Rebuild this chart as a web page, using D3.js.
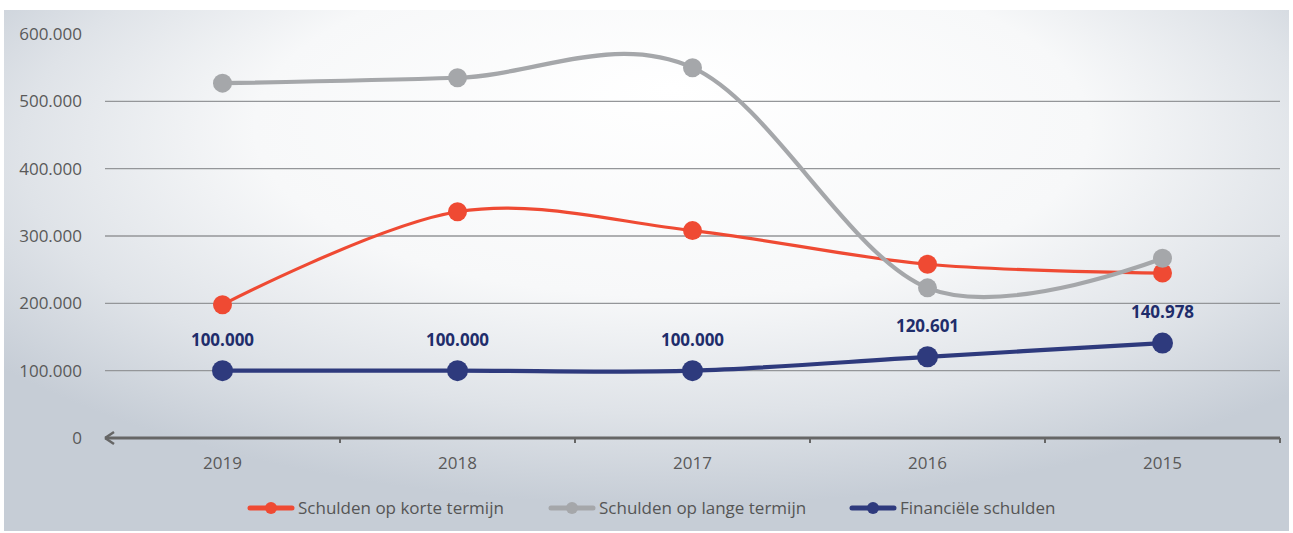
<!DOCTYPE html>
<html>
<head>
<meta charset="utf-8">
<script src="https://cdn.jsdelivr.net/npm/d3@7"></script>
<style>
  html, body { margin: 0; padding: 0; background: #ffffff; }
  svg { display: block; }
  text { font-family: "Open Sans", "Noto Sans", sans-serif; }
</style>
</head>
<body>
<svg id="chart" width="1293" height="533"></svg>
<script>
const years = ["2019", "2018", "2017", "2016", "2015"];
const korte = [198000, 336000, 308000, 258000, 245000];
const lange = [527000, 535000, 550000, 223000, 267000];
const financiele = [100000, 100000, 100000, 120601, 140978];
const yTicks = [0, 100000, 200000, 300000, 400000, 500000, 600000];
const seriesNames = ["Schulden op korte termijn", "Schulden op lange termijn", "Financiële schulden"];

const W = 1293, H = 533;
const svg = d3.select("#chart");
const defs = svg.append("defs");
const grad = defs.append("radialGradient").attr("id", "bg")
  .attr("cx", "52%").attr("cy", "30%").attr("r", "65%").attr("fx", "52%").attr("fy", "15%");
grad.append("stop").attr("offset", "0%").attr("stop-color", "#ffffff");
grad.append("stop").attr("offset", "50%").attr("stop-color", "#f7f8f9");
grad.append("stop").attr("offset", "78%").attr("stop-color", "#dfe3e8");
grad.append("stop").attr("offset", "100%").attr("stop-color", "#c6cdd6");

svg.append("rect").attr("x", 4).attr("y", 10).attr("width", W - 8).attr("height", H - 12)
  .attr("fill", "url(#bg)");

const plot = { left: 105, right: 1280, top: 34, bottom: 438 };
const x = d3.scaleBand().domain(years).range([plot.left, plot.right]);
const y = d3.scaleLinear().domain([0, 600000]).range([plot.bottom, plot.top]);
const fmt = v => v === 0 ? "0" : d3.format(",")(v).replace(/,/g, ".");

// gridlines
svg.append("g").selectAll("line").data(yTicks.filter(d => d > 0 && d < 600000)).join("line")
  .attr("x1", plot.left).attr("x2", plot.right)
  .attr("y1", d => y(d)).attr("y2", d => y(d))
  .attr("stroke", "#949699").attr("stroke-width", 1.3);

// y axis labels
const yAxis = d3.axisLeft(y).tickValues(yTicks).tickFormat(fmt).tickSize(0).tickPadding(0);
const gy = svg.append("g").attr("transform", `translate(82,0)`).call(yAxis);
gy.select(".domain").remove();
gy.selectAll("text").attr("font-size", 17).attr("fill", "#595959");

// x axis
const xAxis = d3.axisBottom(x).tickSize(0).tickPadding(19);
const gx = svg.append("g").attr("transform", `translate(0,${plot.bottom})`).call(xAxis);
gx.select(".domain").remove();
gx.selectAll("text").attr("font-size", 17).attr("fill", "#595959");
svg.append("line").attr("x1", plot.left).attr("x2", plot.right)
  .attr("y1", plot.bottom).attr("y2", plot.bottom)
  .attr("stroke", "#666666").attr("stroke-width", 3);
// arrow at left
svg.append("path")
  .attr("d", `M${plot.left},${plot.bottom} l9,-6 M${plot.left},${plot.bottom} l9,6`)
  .attr("stroke", "#666666").attr("stroke-width", 2.5).attr("fill", "none");
// band boundary ticks
svg.append("g").selectAll("line").data(years.slice(1).concat(["end"])).join("line")
  .attr("x1", d => d === "end" ? plot.right : x(d))
  .attr("x2", d => d === "end" ? plot.right : x(d))
  .attr("y1", plot.bottom).attr("y2", plot.bottom + 5)
  .attr("stroke", "#666666").attr("stroke-width", 2);

const cx = d => x(d) + x.bandwidth() / 2;
const series = [
  { name: seriesNames[0], values: korte, color: "#ef4a33", width: 3.2, r: 9.5 },
  { name: seriesNames[1], values: lange, color: "#a5a7aa", width: 4.2, r: 9.5 },
  { name: seriesNames[2], values: financiele, color: "#2e3a7d", width: 4.2, r: 10.5 }
];
const line = d3.line().x((d, i) => cx(years[i])).y(d => y(d)).curve(d3.curveCardinal.tension(0));

series.forEach(s => {
  const g = svg.append("g");
  g.append("path").datum(s.values).attr("d", line)
    .attr("fill", "none").attr("stroke", s.color).attr("stroke-width", s.width)
    .attr("stroke-linecap", "round");
  g.selectAll("circle").data(s.values).join("circle")
    .attr("cx", (d, i) => cx(years[i])).attr("cy", d => y(d)).attr("r", s.r)
    .attr("fill", s.color);
});

// data labels for financiële schulden
svg.append("g").selectAll("text").data(financiele).join("text")
  .attr("x", (d, i) => cx(years[i])).attr("y", d => y(d) - 25)
  .attr("text-anchor", "middle").attr("font-size", 17).attr("font-weight", "bold")
  .attr("fill", "#1f2d6b").text(d => fmt(d));

// legend
const legendX = [250, 551, 852];
const lg = svg.append("g");
series.forEach((s, i) => {
  const g = lg.append("g").attr("transform", `translate(${legendX[i]},508)`);
  g.append("line").attr("x1", 0).attr("x2", 42).attr("y1", 0).attr("y2", 0)
    .attr("stroke", s.color).attr("stroke-width", 5).attr("stroke-linecap", "round");
  g.append("circle").attr("cx", 21).attr("cy", 0).attr("r", 6).attr("fill", s.color);
  g.append("text").attr("x", 48).attr("y", 0).attr("dy", "0.35em")
    .attr("font-size", 17).attr("fill", "#555555").text(s.name);
});
</script>
</body>
</html>
